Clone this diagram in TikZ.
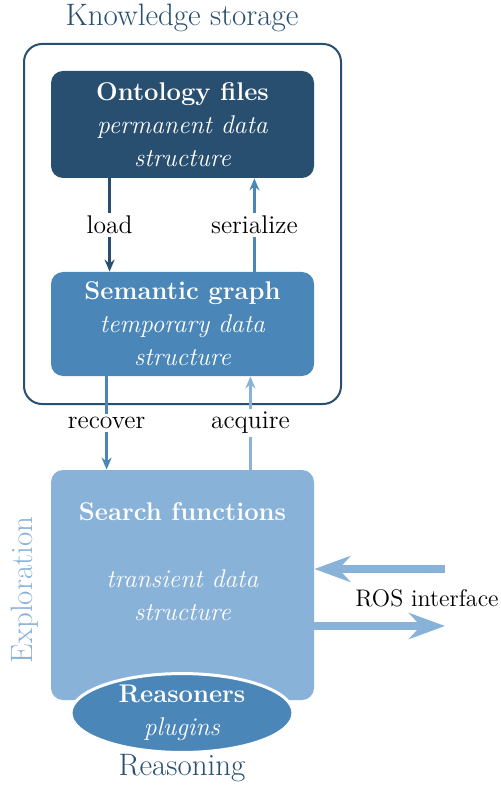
\documentclass[tikz,border=0pt]{standalone}
\usetikzlibrary{arrows.meta}
\usetikzlibrary{shapes.geometric}
\usetikzlibrary{positioning}
\definecolor{kdark}{RGB}{40,79,112}
\definecolor{kmid}{RGB}{74,134,184}
\definecolor{klight}{RGB}{137,178,216}
\newcommand{\bodyfont}{\fontsize{12.8}{16.5}\selectfont}
\newcommand{\headfont}{\fontsize{15.5}{18}\selectfont}
\tikzset{store/.style = {rounded corners = 6pt, minimum width = 131.5pt, align = center, text = white, font = \bodyfont}}
\tikzset{flow/.style = {line width = 1.5pt, -{Stealth[length = 6pt, width = 5pt]}}}
\tikzset{ros/.style = {klight, line width = 4pt, -{Stealth[length = 18pt, width = 13pt]}}}
\tikzset{lbl/.style = {fill = white, inner sep = 1.5pt, text = black, font = \bodyfont}}

\begin{document}
\begin{tikzpicture}[x = 0.5pt, y = -0.5pt]
      \useasboundingbox (0, 0) rectangle (501, 785);
      % knowledge storage
      \node [kdark, font = \headfont] (kstitle) at (182, 18) {Knowledge storage};
      \node [draw = kdark, line width = 1pt, rounded corners = 9pt, minimum width = 158.5pt, minimum height = 180pt] (kstore) at (182.5, 224) {};
      \node [store, fill = kdark, minimum height = 53.5pt] (ont) at (182.5, 124.5) {\textbf{Ontology files}\\\textit{permanent data}\\\textit{structure}};
      \node [store, fill = kmid, minimum height = 52pt] (sem) at (182.5, 324) {\textbf{Semantic graph}\\\textit{temporary data}\\\textit{structure}};
      \draw [flow, kdark] ([xshift = 29.5pt]ont.south west) -- node [lbl] {load} ([xshift = 29.5pt]sem.north west);
      \draw [flow, kmid] ([xshift = -30pt]sem.north east) -- node [lbl] {serialize} ([xshift = -30pt]ont.south east);
      % exploration
      \node [store, fill = klight, minimum height = 115pt] (search) at (182.5, 585) {};
      \node [text = white, font = \bodyfont, align = center] (searchtxt) at (182.5, 562) {\textbf{Search functions}\\[17pt]\textit{transient data}\\\textit{structure}};
      \draw [flow, kmid] ([xshift = 28pt]sem.south west) -- node [lbl] {recover} ([xshift = 28pt]search.north west);
      \draw [flow, klight] ([xshift = -32pt]search.north east) -- node [lbl] {acquire} ([xshift = -32pt]sem.south east);
      \node [klight, font = \headfont, rotate = 90] (explo) at (25, 590) {Exploration};
      % reasoning
      \node [ellipse, fill = kmid, draw = white, line width = 1.5pt, minimum width = 111pt, minimum height = 37pt, text = white, font = \bodyfont, align = center, inner sep = 0pt] (reas) at (182, 713) {\textbf{Reasoners}\\\textit{plugins}};
      \node [kdark, font = \headfont] (reastitle) at (182, 768) {Reasoning};
      % ROS interface
      \coordinate (rosin) at (445, 569);
      \coordinate (rosout) at (445, 626);
      \draw [ros] (rosin) -- (rosin -| search.east);
      \draw [ros] (rosout -| search.east) -- (rosout);
      \node [font = \large, anchor = east, inner sep = 0pt] (roslbl) at (499, 598) {ROS interface};
    \end{tikzpicture}
\end{document}
